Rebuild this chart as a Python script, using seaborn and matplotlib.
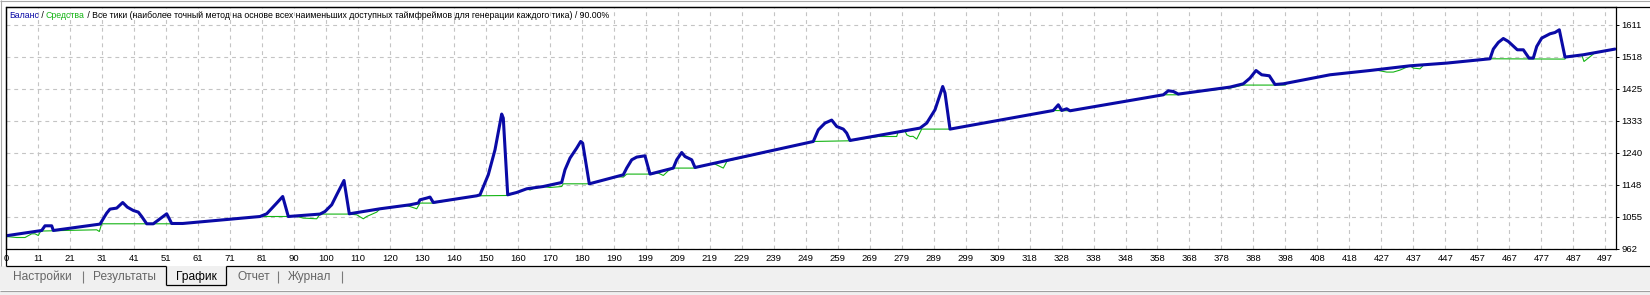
import numpy as np
import pandas as pd
import matplotlib
matplotlib.use("Agg")
import matplotlib.pyplot as plt
from matplotlib.patches import Rectangle
from matplotlib.lines import Line2D
import seaborn as sns

# ---------------- data ----------------
balance_x = [0, 11.16, 12.19, 14.29, 14.79, 29.39, 31.48, 32.51, 34.61, 36.49, 37.92, 39.80, 41.36,
             42.42, 43.99, 46.05, 50.24, 51.80, 55.24, 79.41, 81.50, 84.63, 86.51, 88.26, 98.17,
             99.73, 101.83, 103.39, 105.67, 107.33, 116.93, 126.31, 128.90, 129.43, 131.53, 132.56,
             133.59, 147.16, 148.19, 150.78, 152.88, 154.44, 154.97, 155.47, 156.85, 159.66, 162.79,
             167.98, 173.73, 174.76, 176.33, 178.42, 179.67, 180.29, 182.36, 192.99, 194.05, 195.62,
             197.18, 199.77, 201.34, 208.62, 209.69, 211.25, 212.28, 214.38, 215.41, 252.39, 253.96,
             256.05, 258.14, 259.71, 261.77, 262.83, 263.87, 285.75, 287.85, 290.44, 292.00, 292.85,
             293.57, 295.13, 327.42, 328.99, 330.05, 331.61, 332.65, 361.82, 363.38, 364.95, 366.51,
             382.67, 386.83, 388.92, 390.80, 392.58, 394.96, 396.74, 399.34, 413.94, 426.44, 438.94,
             450.41, 463.95, 464.99, 466.55, 468.11, 469.68, 472.49, 474.37, 476.15, 477.49, 478.56,
             480.12, 482.71, 484.28, 485.62, 487.40, 493.12, 503.03]
balance_y = [999.2, 1014.5, 1028.1, 1028.1, 1014.5, 1033.0, 1064.8, 1076.4, 1079.3, 1095.5, 1082.2,
             1072.4, 1067.7, 1055.0, 1033.9, 1033.9, 1062.8, 1034.8, 1034.8, 1055.0, 1062.8, 1093.8,
             1112.9, 1055.0, 1062.0, 1069.5, 1088.9, 1117.8, 1159.2, 1062.8, 1077.3, 1088.9, 1093.8,
             1103.3, 1108.3, 1111.2, 1095.5, 1114.9, 1117.8, 1175.7, 1248.0, 1325.3, 1351.4, 1339.8,
             1117.8, 1124.5, 1135.2, 1141.8, 1153.4, 1190.2, 1224.0, 1253.0, 1272.1, 1267.4, 1149.6,
             1175.7, 1195.1, 1219.1, 1226.9, 1230.7, 1177.7, 1195.1, 1219.1, 1240.2, 1228.6, 1219.1,
             1196.8, 1272.1, 1305.9, 1325.3, 1334.0, 1315.5, 1307.9, 1296.4, 1275.0, 1310.8, 1325.3,
             1363.8, 1407.2, 1431.2, 1412.1, 1307.9, 1361.8, 1378.3, 1361.8, 1366.7, 1360.9, 1407.2,
             1418.8, 1416.8, 1409.2, 1429.5, 1439.0, 1455.5, 1477.5, 1465.1, 1462.2, 1437.0, 1439.0,
             1465.1, 1477.5, 1491.1, 1498.9, 1511.4, 1539.5, 1558.6, 1570.1, 1561.5, 1537.4, 1537.4,
             1513.4, 1513.4, 1547.0, 1571.3, 1583.7, 1587.5, 1595.3, 1516.3, 1523.0, 1539.5]

equity_x = [0, 3.35, 5.94, 8.03, 9.07, 10.10, 10.85, 17.91, 28.36, 29.17, 29.92, 51.80, 55.24, 79.41,
            88.26, 90.35, 92.95, 97.14, 98.17, 107.33, 109.64, 111.71, 112.77, 115.90, 116.93,
            125.06, 126.31, 128.40, 129.43, 133.59, 147.16, 156.85, 159.66, 162.79, 163.82, 165.07,
            167.98, 170.07, 173.73, 174.23, 182.36, 191.02, 192.99, 194.05, 201.34, 203.93, 205.50,
            207.06, 208.62, 215.41, 221.13, 224.26, 225.42, 252.39, 263.87, 272.71, 278.47, 278.87,
            281.06, 281.60, 282.63, 283.57, 284.72, 285.75, 286.28, 295.13, 327.42, 332.65, 361.82,
            366.51, 367.67, 382.67, 386.83, 399.84, 400.78, 413.94, 426.44, 428.0, 431.65, 433.72,
            435.81, 438.94, 439.97, 442.06, 443.31, 463.95, 487.40, 487.71, 492.62, 493.34, 494.69,
            496.25, 496.78, 503.03]
equity_y = [997.1, 994.2, 994.2, 1004.9, 1004.9, 1000.0, 1012.8, 1014.5, 1016.5, 1011.6, 1033.9,
            1033.9, 1034.8, 1055.0, 1055.0, 1056.5, 1050.4, 1048.4, 1062.0, 1062.0, 1059.9, 1048.4,
            1055.0, 1067.7, 1077.3, 1086.6, 1083.9, 1077.3, 1093.8, 1093.8, 1114.9, 1115.8, 1124.5,
            1135.2, 1131.7, 1136.6, 1141.8, 1138.9, 1141.8, 1149.6, 1149.6, 1170.5, 1169.0, 1177.7,
            1177.7, 1180.6, 1173.7, 1187.3, 1195.1, 1195.1, 1209.0, 1195.1, 1215.3, 1272.1, 1274.1,
            1286.5, 1286.5, 1299.3, 1303.0, 1291.4, 1286.5, 1287.1, 1279.0, 1298.1, 1307.9, 1307.9,
            1361.8, 1360.9, 1407.2, 1407.2, 1410.7, 1426.6, 1435.3, 1435.3, 1441.6, 1465.1, 1477.5,
            1479.3, 1472.9, 1472.9, 1478.7, 1491.1, 1484.5, 1482.4, 1494.0, 1511.4, 1510.5, 1516.3,
            1522.4, 1503.6, 1513.4, 1525.0, 1529.0, 1539.5]

x_tick_labels = ["0", "11", "21", "31", "41", "51", "61", "71", "81", "90", "100", "110", "120",
                 "130", "140", "150", "160", "170", "180", "190", "199", "209", "219", "229", "239",
                 "249", "259", "269", "279", "289", "299", "309", "318", "328", "338", "348", "358",
                 "368", "378", "388", "398", "408", "418", "427", "437", "447", "457", "467", "477",
                 "487", "497"]
y_tick_labels = ["962", "1055", "1148", "1240", "1333", "1425", "1518", "1611"]
y_tick_start = 962.4
y_tick_step = 92.6

title_parts = ["Баланс", " / ", "Средства",
               " / Все тики (наиболее точный метод на основе всех наименьших доступных "
               "таймфреймов для генерации каждого тика) / 90.00%"]
tab_labels = ["Настройки", "Результаты", "График", "Отчет", "Журнал"]

# ---------------- style ----------------
BLUE = "#0a0aa6"
GREEN = "#14b414"
GRID = "#c4c4c4"
sns.set_style("white")
plt.rcParams["font.family"] = ["Liberation Sans", "DejaVu Sans"]

W, H = 1650, 295
fig = plt.figure(figsize=(W / 100, H / 100), dpi=100)
fig.patch.set_facecolor("white")


def fx(x):
    return x / W


def fy(y):
    return 1 - y / H


# axes placed in pixel geometry
ax_l, ax_r, ax_t, ax_b = 6, 1616, 7, 248.5
ax = fig.add_axes([fx(ax_l), fy(ax_b), (ax_r - ax_l) / W, (ax_b - ax_t) / H])
ax.set_facecolor("white")

df_eq = pd.DataFrame({"x": equity_x, "y": equity_y})
df_bal = pd.DataFrame({"x": balance_x, "y": balance_y})
sns.lineplot(data=df_eq, x="x", y="y", ax=ax, color=GREEN, linewidth=0.8,
             sort=False, estimator=None, zorder=3)
sns.lineplot(data=df_bal, x="x", y="y", ax=ax, color=BLUE, linewidth=2.2,
             sort=False, estimator=None, zorder=4)

n_x = len(x_tick_labels)
xticks = np.arange(n_x) * 10.0
yticks = y_tick_start + y_tick_step * np.arange(len(y_tick_labels))
ax.set_xlim(0, (ax_r - ax_l) / ((1605.3 - 6) / 500.0))
ax.set_ylim(y_tick_start, y_tick_start + y_tick_step * (ax_b - ax_t) / 32.0)
ax.set_xticks(xticks)
ax.set_xticklabels(x_tick_labels)
ax.set_yticks(yticks)
ax.set_yticklabels(y_tick_labels)
ax.yaxis.tick_right()
ax.set_xlabel("")
ax.set_ylabel("")
ax.tick_params(axis="x", direction="out", length=2.5, width=0.7, pad=1.2,
               labelsize=6.8, colors="black")
ax.tick_params(axis="y", direction="out", length=2.5, width=0.7, pad=1.5,
               labelsize=6.8, colors="black", right=True, left=False)
ax.grid(True, color=GRID, linestyle=(0, (3.5, 3.5)), linewidth=0.8)
ax.set_axisbelow(True)
for s in ax.spines.values():
    s.set_color("black")
    s.set_linewidth(0.9)
    s.set_visible(True)

# ---------------- window frame ----------------
def hline(y, x0, x1, color, lw=0.9):
    fig.add_artist(Line2D([fx(x0), fx(x1)], [fy(y), fy(y)], color=color, lw=lw,
                          transform=fig.transFigure, solid_capstyle="butt"))


def vline(x, y0, y1, color, lw=0.9):
    fig.add_artist(Line2D([fx(x), fx(x)], [fy(y0), fy(y1)], color=color, lw=lw,
                          transform=fig.transFigure, solid_capstyle="butt"))


# outer light border
hline(1, 0, W, "#a8a8a8", 0.8)
vline(1, 0, 266, "#a8a8a8", 0.8)
# chart window black frame
hline(7, 5.5, W, "black")
vline(5.8, 7, 266, "black")

# tab bar
fig.add_artist(Rectangle((0, fy(290)), 1, (290 - 266) / H, transform=fig.transFigure,
                         facecolor="#f0f0f0", edgecolor="none", zorder=0))
fig.add_artist(Rectangle((0, 0), 1, (H - 291) / H, transform=fig.transFigure,
                         facecolor="#f0f0f0", edgecolor="none", zorder=0))
hline(290.5, 0, W, "#a0a0a0", 0.8)
tab_l, tab_r = 166, 226
hline(266, 5.5, tab_l, "black")
hline(266, tab_r, W, "black")
vline(tab_l, 266, 285, "black")
vline(tab_r, 266, 285, "black")
hline(285, tab_l, tab_r, "black")

tab_x = [13, 93, 176, 237, 288]
sep_x = [83, 278, 342]
for lbl, x in zip(tab_labels, tab_x):
    col = "black" if lbl == "График" else "#666666"
    fig.text(fx(x), fy(277), lbl, fontsize=8.6, color=col, va="center", ha="left")
for x in sep_x:
    vline(x, 270.5, 283, "#7a7a7a", 0.8)

# ---------------- title ----------------
title_colors = [BLUE, "black", GREEN, "black"]
renderer = fig.canvas.get_renderer()


def draw_title(fs):
    arts = []
    x = 9.0
    for s, c in zip(title_parts, title_colors):
        t = fig.text(fx(x), fy(15.8), s, fontsize=fs, color=c, va="center", ha="left")
        bb = t.get_window_extent(renderer)
        x += bb.width
        arts.append(t)
    return arts, x - 9.0


arts, width = draw_title(7.0)
for a in arts:
    a.remove()
arts, width = draw_title(7.0 * 597.0 / width)

fig.savefig("out.png", dpi=100, facecolor=fig.get_facecolor())
